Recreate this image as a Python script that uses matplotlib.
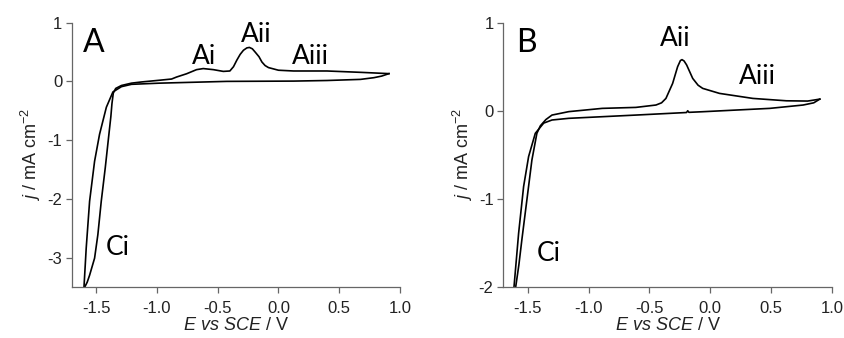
import matplotlib.pyplot as plt

# Panel A: cyclic voltammogram (E in V vs SCE, j in mA cm-2)
E_a_fwd = [-1.602, -1.575, -1.555, -1.514, -1.487, -1.459, -1.426, -1.396, -1.380,
           -1.371, -1.360, -1.340, -1.293, -1.210, -1.128, -0.977, -0.880, -0.839,
           -0.756, -0.674, -0.619, -0.536, -0.454, -0.400, -0.370, -0.343, -0.315,
           -0.288, -0.260, -0.239, -0.215, -0.192, -0.160, -0.136, -0.110, -0.082,
           0.000, 0.125, 0.400, 0.676, 0.910]
j_a_fwd = [-3.53, -3.42, -3.30, -3.01, -2.61, -2.04, -1.47, -0.90, -0.60,
           -0.38, -0.20, -0.12, -0.07, -0.03, -0.01, 0.02, 0.04, 0.074,
           0.13, 0.20, 0.218, 0.20, 0.17, 0.177, 0.25, 0.36, 0.46,
           0.53, 0.57, 0.578, 0.555, 0.50, 0.42, 0.33, 0.27, 0.235,
           0.19, 0.177, 0.177, 0.154, 0.132]
E_a_rev = [0.910, 0.850, 0.786, 0.676, 0.400, 0.125, -0.426, -0.977, -1.210,
           -1.293, -1.363, -1.417, -1.473, -1.514, -1.555, -1.583, -1.602]
j_a_rev = [0.132, 0.090, 0.063, 0.034, 0.015, 0.005, 0.000, -0.030, -0.050,
           -0.090, -0.180, -0.440, -0.900, -1.360, -2.040, -2.840, -3.530]

# Panel B
E_b_fwd = [-1.598, -1.572, -1.547, -1.506, -1.465, -1.424, -1.395, -1.350, -1.300,
           -1.162, -0.887, -0.611, -0.446, -0.400, -0.364, -0.309, -0.268, -0.245,
           -0.232, -0.215, -0.194, -0.144, -0.100, -0.062, 0.076, 0.350, 0.626,
           0.800, 0.900]
j_b_fwd = [-2.00, -1.75, -1.46, -1.01, -0.56, -0.256, -0.17, -0.10, -0.049,
           -0.010, 0.027, 0.038, 0.065, 0.090, 0.14, 0.31, 0.50, 0.57,
           0.58, 0.565, 0.52, 0.367, 0.29, 0.254, 0.197, 0.14, 0.113,
           0.110, 0.132]
E_b_rev = [0.900, 0.850, 0.763, 0.489, -0.062, -0.175, -0.185, -0.195, -0.611,
           -1.162, -1.300, -1.368, -1.437, -1.492, -1.533, -1.574, -1.612]
j_b_rev = [0.132, 0.090, 0.065, 0.027, -0.011, -0.018, 0.000, -0.020, -0.049,
           -0.086, -0.105, -0.140, -0.256, -0.520, -0.860, -1.390, -2.000]

x_ticks = [-1.5, -1.0, -0.5, 0.0, 0.5, 1.0]

plt.rcParams['font.family'] = ['Liberation Sans', 'DejaVu Sans']
plt.rcParams['axes.unicode_minus'] = False
plt.rcParams['mathtext.fontset'] = 'custom'
plt.rcParams['mathtext.rm'] = 'Liberation Sans'
plt.rcParams['mathtext.it'] = 'Liberation Sans:italic'
ann_font = 'Lato'
axis_grey = '#666666'
text_grey = '#222222'

fig = plt.figure(figsize=(8.45, 3.38), dpi=100)
ax_a = fig.add_axes([0.0852, 0.151, 0.388, 0.782])
ax_b = fig.add_axes([0.5956, 0.151, 0.389, 0.782])

panels = [
    (ax_a, E_a_fwd, j_a_fwd, E_a_rev, j_a_rev, (-3.5, 1), [-3, -2, -1, 0, 1]),
    (ax_b, E_b_fwd, j_b_fwd, E_b_rev, j_b_rev, (-2, 1), [-2, -1, 0, 1]),
]

for ax, ef, jf, er, jr, ylim, yticks in panels:
    ax.plot(ef, jf, color='black', lw=1.2)
    ax.plot(er, jr, color='black', lw=1.2)
    ax.set_xlim(-1.7, 1.0)
    ax.set_ylim(*ylim)
    ax.set_xticks(x_ticks)
    ax.set_xticklabels([f'{t:.1f}' for t in x_ticks])
    ax.set_yticks(yticks)
    for s in ['top', 'right']:
        ax.spines[s].set_visible(False)
    for s in ['left', 'bottom']:
        ax.spines[s].set_linewidth(0.9)
        ax.spines[s].set_color(axis_grey)
    ax.tick_params(direction='out', length=4, width=0.9, color=axis_grey,
                   labelsize=12, labelcolor=text_grey)
    ax.tick_params(axis='x', pad=6)
    ax.tick_params(axis='y', pad=3)
    ax.set_xlabel(r'$\mathit{E\ vs\ SCE}$ / V', fontsize=13, labelpad=1, color=text_grey)
    ax.set_ylabel(r'$\mathit{j}$ / mA cm$^{-2}$', fontsize=13, labelpad=3, color=text_grey)

# annotations
ax_a.text(-1.61, 0.65, 'A', fontsize=23, family=ann_font, ha='left', va='center')
ax_a.text(-0.61, 0.43, 'Ai', fontsize=19, family=ann_font, ha='center', va='center')
ax_a.text(-0.185, 0.80, 'Aii', fontsize=19, family=ann_font, ha='center', va='center')
ax_a.text(0.267, 0.43, 'Aiii', fontsize=19, family=ann_font, ha='center', va='center')
ax_a.text(-1.32, -2.83, 'Ci', fontsize=19, family=ann_font, ha='center', va='center')

ax_b.text(-1.595, 0.77, 'B', fontsize=23, family=ann_font, ha='left', va='center')
ax_b.text(-0.285, 0.82, 'Aii', fontsize=19, family=ann_font, ha='center', va='center')
ax_b.text(0.39, 0.385, 'Aiii', fontsize=19, family=ann_font, ha='center', va='center')
ax_b.text(-1.33, -1.625, 'Ci', fontsize=19, family=ann_font, ha='center', va='center')

fig.savefig('out.png', dpi=100)
